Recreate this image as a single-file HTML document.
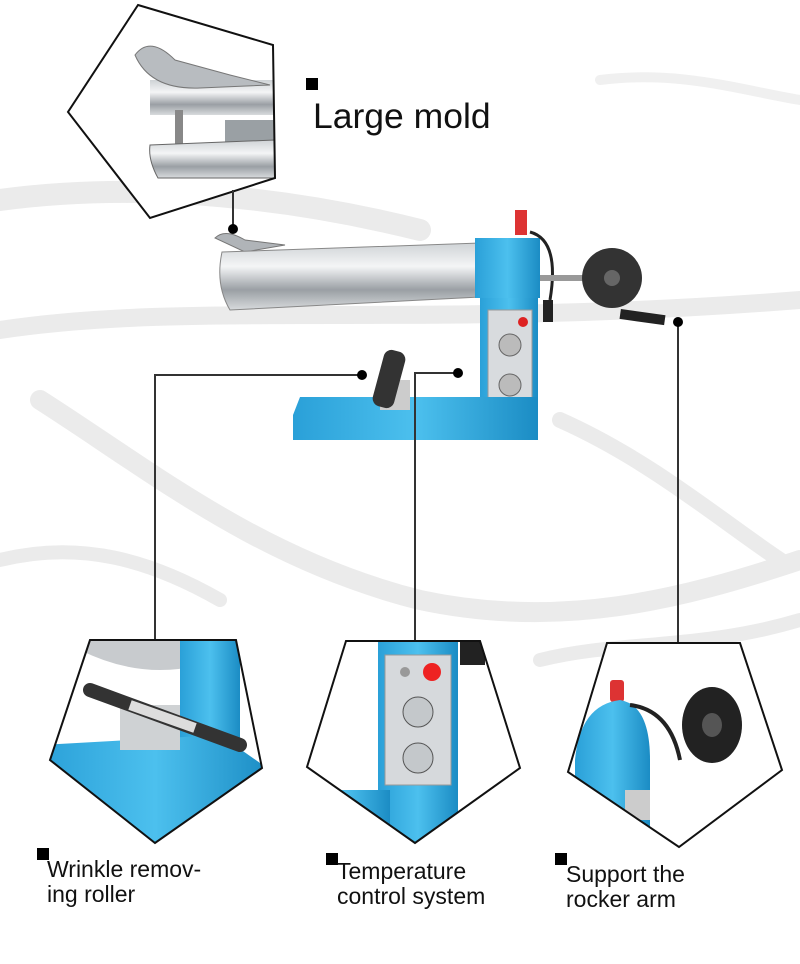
<!DOCTYPE html>
<html><head><meta charset="utf-8"><style>
html,body{margin:0;padding:0;background:#fff}
body{width:800px;height:964px;position:relative;overflow:hidden;font-family:"Liberation Sans",sans-serif}
svg{position:absolute;left:0;top:0}
.t{position:absolute;color:#111;font-size:23px;line-height:25px}
.sq{position:absolute;width:12px;height:12px;background:#000}
</style></head><body>
<svg width="800" height="964" viewBox="0 0 800 964">
<defs>
<linearGradient id="steel" x1="0" y1="0" x2="0" y2="1">
<stop offset="0" stop-color="#cfd3d6"/><stop offset=".35" stop-color="#f4f5f6"/><stop offset=".7" stop-color="#9a9fa4"/><stop offset="1" stop-color="#d8dbdd"/></linearGradient>
<linearGradient id="blue" x1="0" y1="0" x2="1" y2="0">
<stop offset="0" stop-color="#2aa0d8"/><stop offset=".5" stop-color="#4cc0ee"/><stop offset="1" stop-color="#1b8cc4"/></linearGradient>
<clipPath id="c1"><polygon points="138,5 273,45 275,178 150,218 68,112"/></clipPath>
<clipPath id="c2"><polygon points="90,640 236,640 262,768 155,843 50,760"/></clipPath>
<clipPath id="c3"><polygon points="346,641 480,641 520,768 415,843 307,767"/></clipPath>
<clipPath id="c4"><polygon points="607,643 740,643 782,770 679,847 568,772"/></clipPath>
</defs>
<g fill="none" stroke="#ebebeb" stroke-linecap="round">
<path d="M0,200 C150,180 300,200 420,230" stroke-width="22"/>
<path d="M0,330 C200,300 420,330 800,300" stroke-width="18"/>
<path d="M40,400 C150,470 260,560 420,600 C560,630 680,600 800,560" stroke-width="20"/>
<path d="M560,420 C650,460 720,520 780,560" stroke-width="16"/>
<path d="M540,660 C620,640 700,650 800,620" stroke-width="14"/>
<path d="M0,560 C80,540 150,560 220,600" stroke-width="14"/>
<path d="M600,80 C680,70 740,90 800,100" stroke-width="10" stroke="#f0f0f0"/>
</g>
<g clip-path="url(#c1)">
<rect x="60" y="0" width="220" height="220" fill="#fff"/>
<rect x="150" y="80" width="130" height="35" fill="url(#steel)"/>
<path d="M135,55 Q150,35 175,60 L230,75 L270,85 L200,88 Q150,90 135,55Z" fill="#b8bcc0" stroke="#777"/>
<rect x="175" y="110" width="8" height="35" fill="#888"/>
<rect x="225" y="120" width="50" height="22" fill="#9aa0a4"/>
<path d="M150,145 L275,140 L275,178 L158,178 Q148,160 150,145Z" fill="url(#steel)" stroke="#666"/>
</g>
<polygon points="138,5 273,45 275,178 150,218 68,112" fill="none" stroke="#111" stroke-width="2"/>
<path d="M215,238 Q225,228 245,240 L285,245 L245,252 Z" fill="#b0b4b8" stroke="#777"/>
<path d="M222,252 L480,243 L480,297 L230,310 Q215,285 222,252Z" fill="url(#steel)" stroke="#888"/>
<rect x="475" y="238" width="65" height="60" fill="url(#blue)"/>
<rect x="515" y="210" width="12" height="25" fill="#d33"/>
<path d="M530,232 Q560,240 550,300" stroke="#222" stroke-width="3" fill="none"/>
<rect x="540" y="275" width="70" height="6" fill="#999"/>
<circle cx="612" cy="278" r="30" fill="#333"/><circle cx="612" cy="278" r="8" fill="#666"/>
<rect x="620" y="312" width="45" height="10" fill="#222" transform="rotate(8 642 317)"/>
<rect x="480" y="298" width="58" height="115" fill="url(#blue)"/>
<rect x="488" y="310" width="44" height="100" fill="#d8dbde" stroke="#999"/>
<circle cx="510" cy="345" r="11" fill="#bbb" stroke="#666"/><circle cx="510" cy="385" r="11" fill="#bbb" stroke="#666"/>
<circle cx="523" cy="322" r="5" fill="#d22"/>
<rect x="543" y="300" width="10" height="22" fill="#222"/>
<path d="M293,415 L300,397 L538,397 L538,440 L293,440Z" fill="url(#blue)"/>
<rect x="380" y="380" width="30" height="30" fill="#ccc"/>
<rect x="378" y="350" width="22" height="58" rx="8" fill="#333" transform="rotate(15 389 379)"/>
<g stroke="#333" stroke-width="2" fill="none">
<line x1="233" y1="190" x2="233" y2="229"/>
<polyline points="362,375 155,375 155,640"/>
<polyline points="458,373 415,373 415,641"/>
<line x1="678" y1="322" x2="678" y2="643"/>
</g>
<g fill="#000"><circle cx="233" cy="229" r="5"/><circle cx="362" cy="375" r="5"/><circle cx="458" cy="373" r="5"/><circle cx="678" cy="322" r="5"/></g>
<g clip-path="url(#c2)">
<rect x="40" y="630" width="230" height="220" fill="#fff"/>
<path d="M80,650 Q160,690 240,650 L240,640 L80,640Z" fill="#c8cbce"/>
<rect x="180" y="640" width="60" height="100" fill="url(#blue)"/>
<path d="M40,745 L220,735 L270,770 L270,850 L40,850Z" fill="url(#blue)"/>
<rect x="120" y="705" width="60" height="45" fill="#cfd2d4"/>
<line x1="90" y1="690" x2="240" y2="745" stroke="#333" stroke-width="14" stroke-linecap="round"/>
<line x1="130" y1="705" x2="195" y2="728" stroke="#ddd" stroke-width="10"/>
</g>
<polygon points="90,640 236,640 262,768 155,843 50,760" fill="none" stroke="#111" stroke-width="2"/>
<g clip-path="url(#c3)">
<rect x="300" y="635" width="225" height="215" fill="#fff"/>
<rect x="378" y="640" width="80" height="210" fill="url(#blue)"/>
<rect x="300" y="790" width="90" height="60" fill="url(#blue)"/>
<rect x="385" y="655" width="66" height="130" fill="#d6d9dc" stroke="#999"/>
<circle cx="432" cy="672" r="9" fill="#e22"/><circle cx="405" cy="672" r="5" fill="#999"/>
<circle cx="418" cy="712" r="15" fill="#c4c8cb" stroke="#555"/><circle cx="418" cy="758" r="15" fill="#c4c8cb" stroke="#555"/>
<rect x="460" y="640" width="25" height="25" fill="#222"/>
</g>
<polygon points="346,641 480,641 520,768 415,843 307,767" fill="none" stroke="#111" stroke-width="2"/>
<g clip-path="url(#c4)">
<rect x="560" y="640" width="230" height="215" fill="#fff"/>
<rect x="610" y="680" width="14" height="22" rx="3" fill="#d33"/>
<path d="M575,760 Q580,705 620,700 Q650,705 650,760 L650,850 L575,850Z" fill="url(#blue)"/>
<ellipse cx="712" cy="725" rx="30" ry="38" fill="#222"/><ellipse cx="712" cy="725" rx="10" ry="12" fill="#555"/>
<path d="M630,705 Q670,710 680,760" stroke="#222" stroke-width="4" fill="none"/>
<rect x="625" y="790" width="25" height="30" fill="#ccc"/>
</g>
<polygon points="607,643 740,643 782,770 679,847 568,772" fill="none" stroke="#111" stroke-width="2"/>
</svg>
<div class="sq" style="left:306px;top:78px"></div>
<div class="t" style="left:313px;top:96px;font-size:35.5px;line-height:40px">Large mold</div>
<div class="sq" style="left:37px;top:848px"></div>
<div class="t" style="left:47px;top:857px">Wrinkle remov-<br>ing roller</div>
<div class="sq" style="left:326px;top:853px"></div>
<div class="t" style="left:337px;top:859px">Temperature<br>control system</div>
<div class="sq" style="left:555px;top:853px"></div>
<div class="t" style="left:566px;top:862px">Support the<br>rocker arm</div>
</body></html>
